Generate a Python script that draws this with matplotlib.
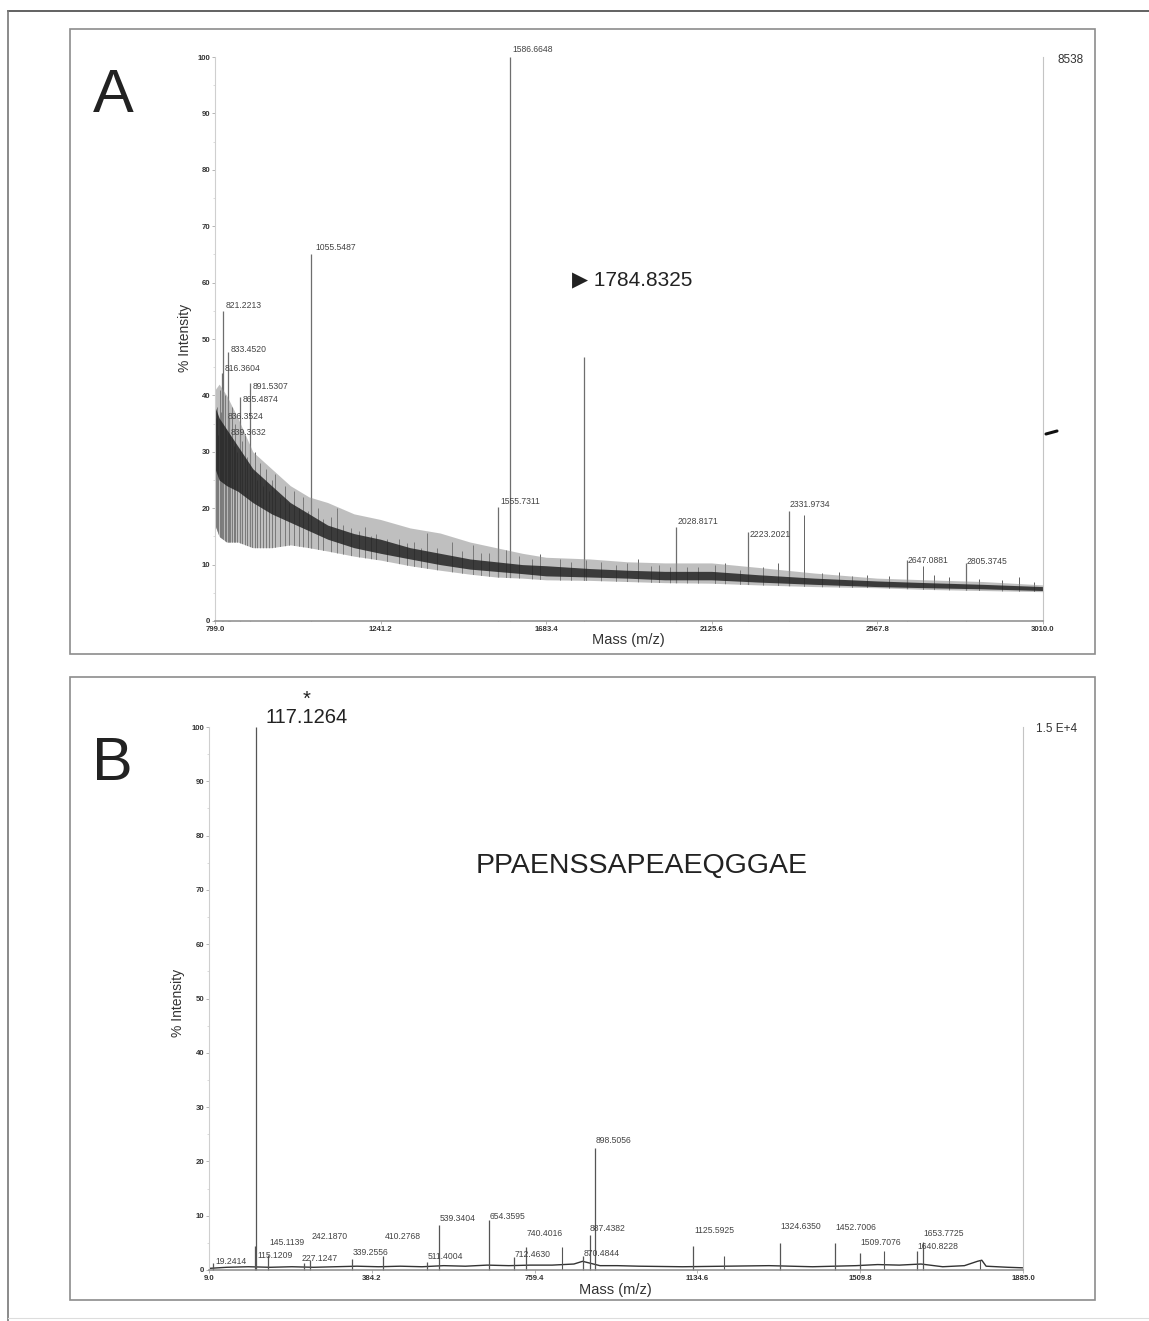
import matplotlib
matplotlib.use("Agg")
import matplotlib.pyplot as plt
from matplotlib.patches import Rectangle
from matplotlib.lines import Line2D
from matplotlib.ticker import MultipleLocator

plt.rcParams['font.family'] = ['Liberation Sans', 'DejaVu Sans']

W, H = 1149, 1321

# ---- spectrum A: MS scan 799-3010 ----
a_xticks = [799.0, 1241.2, 1683.4, 2125.6, 2567.8, 3010.0]

# noise envelope of the raw trace (outer spread and dense core)
a_env_mz = [799, 810, 830, 860, 900, 950, 1000, 1050, 1100, 1170, 1241, 1320, 1400,
            1480, 1550, 1620, 1683, 1800, 1900, 2000, 2125, 2250, 2400, 2567, 2700,
            2850, 3010]
a_env_hi = [41, 42, 40, 36, 30, 27, 24, 22, 21, 19, 18, 16.5, 15.6, 14, 13, 12, 11.3,
            11, 10.5, 10.3, 10.3, 9.5, 8.5, 7.6, 7.3, 7.0, 6.4]
a_env_lo = [17, 15, 14, 14, 13, 13, 13.5, 13, 12.4, 11.5, 10.8, 9.8, 9.0, 8.3, 7.8,
            7.6, 7.3, 7.2, 7.0, 6.8, 6.7, 6.4, 6.1, 5.9, 5.6, 5.4, 5.2]
a_core_hi = [38, 36, 34, 31, 27, 24, 21, 19, 17, 15.5, 14.5, 13, 12, 11, 10.5, 10,
             9.8, 9.3, 9.0, 8.8, 8.8, 8.2, 7.6, 7.1, 6.8, 6.5, 6.1]
a_core_lo = [27, 25, 24, 23, 21, 19, 17.5, 16, 14.5, 13, 12, 11, 10, 9.2, 8.8, 8.4,
             8.0, 7.8, 7.6, 7.3, 7.3, 6.9, 6.5, 6.1, 5.9, 5.7, 5.4]

# labelled peaks
a_peak_mz = [1586.6648, 1784.8325, 1055.5487, 821.2213, 833.4520, 816.3604, 891.5307,
             865.4874, 836.3524, 839.3632, 1555.7311, 2028.8171, 2223.2021, 2331.9734,
             2647.0881, 2805.3745]
a_peak_int = [100, 46.8, 65, 55, 47.7, 44, 42.2, 39.7, 36, 33, 20.2, 16.7, 15.8, 19.5,
              10.8, 10.2]
a_peak_text = ["1586.6648", None, "1055.5487", "821.2213", "833.4520", "816.3604",
               "891.5307", "865.4874", "836.3524", "839.3632", "1555.7311", "2028.8171",
               "2223.2021", "2331.9734", "2647.0881", "2805.3745"]
# where each peak label sits (m/z, %)
a_label_pos = [(1592, 101.4), None, (1066, 66.3), (828, 56.0), (842, 48.2), (826, 44.7),
               (900, 41.5), (874, 39.2), (834, 36.3), (842, 33.5), (1560, 21.1),
               (2035, 17.6), (2227, 15.4), (2334, 20.6), (2649, 10.8), (2805, 10.5)]

# unlabelled spikes standing out of the noise
a_minor_mz = [802, 805, 808, 812, 815, 826, 829, 845, 849, 852, 858, 871, 878, 884,
              897, 905, 912, 918, 926, 935, 944, 952, 960, 972, 985, 997, 1010, 1022,
              1035, 1047, 1075, 1088, 1110, 1125, 1141, 1163, 1184, 1200, 1215, 1230,
              1258, 1290, 1312, 1330, 1348, 1365, 1392, 1432, 1458, 1487, 1510, 1530,
              1575, 1610, 1645, 1668, 1720, 1750, 1790, 1830, 1870, 1900, 1928, 1962,
              1985, 2015, 2060, 2090, 2135, 2161, 2200, 2262, 2302, 2373, 2420, 2465,
              2500, 2540, 2600, 2690, 2720, 2760, 2840, 2900, 2946, 2985]
a_minor_int = [36, 38, 33, 41, 37, 40, 34, 38, 31, 35, 30, 32, 33, 29, 27, 30, 25, 28,
               24, 27, 23, 25, 26, 22, 24, 21, 23, 20, 22, 19.5, 20, 18, 18.5, 20, 17,
               16.5, 16, 16.7, 15, 15.5, 14.5, 14.5, 13.8, 14, 13, 15.6, 13, 14, 12.4,
               13.5, 12, 12, 12.5, 11.5, 11, 11.8, 11, 10.5, 10.8, 10.5, 10, 10.2, 11,
               9.8, 10, 9.6, 9.6, 9.5, 9.9, 10.3, 9.0, 9.6, 10.3, 18.8, 8.5, 8.6, 8.0,
               8.2, 7.9, 9.8, 8.1, 7.8, 7.4, 7.2, 7.8, 7.0]

# ---- spectrum B: MS/MS of 1784.8325 ----
b_xticks = [9.0, 384.2, 759.4, 1134.6, 1509.8, 1885.0]

b_base_mz = [9, 50, 100, 150, 200, 250, 300, 350, 400, 450, 500, 550, 600, 650, 700,
             750, 800, 850, 870, 890, 910, 950, 1000, 1100, 1200, 1300, 1400, 1500,
             1550, 1600, 1650, 1700, 1750, 1780, 1790, 1800, 1850, 1885]
b_base_int = [0.3, 0.5, 0.6, 0.5, 0.6, 0.5, 0.6, 0.7, 0.6, 0.7, 0.6, 0.8, 0.7, 0.9,
              0.8, 0.9, 0.9, 1.1, 1.6, 1.2, 0.8, 0.8, 0.7, 0.6, 0.7, 0.8, 0.6, 0.8,
              1.0, 0.9, 1.1, 0.6, 0.8, 1.6, 1.8, 0.7, 0.5, 0.4]

b_peak_mz = [117.1264, 898.5056, 887.4382, 870.4844, 740.4016, 712.4630, 654.3595,
             539.3404, 511.4004, 410.2768, 339.2556, 242.1870, 227.1247, 145.1139,
             115.1209, 19.2414, 1125.5925, 1324.6350, 1452.7006, 1509.7076, 1640.8228,
             1653.7725]
b_peak_int = [100, 22.5, 6.5, 2.5, 4.3, 2.4, 9.2, 8.3, 1.5, 2.5, 2.0, 1.8, 1.2, 2.8,
              4.5, 1.2, 4.5, 5.0, 5.0, 3.2, 3.5, 5.2]
b_peak_text = [None, "898.5056", "887.4382", "870.4844", "740.4016", "712.4630",
               "654.3595", "539.3404", "511.4004", "410.2768", "339.2556", "242.1870",
               "227.1247", "145.1139", "115.1209", "19.2414", "1125.5925", "1324.6350",
               "1452.7006", "1509.7076", "1640.8228", "1653.7725"]
b_label_pos = [None, (900, 23.9), (886, 7.7), (872, 3.1), (741, 6.8), (713, 2.9),
               (656, 9.8), (541, 9.4), (513, 2.4), (414, 6.1), (340, 3.3), (246, 6.1),
               (223, 2.2), (149, 5.0), (119.5, 2.6), (22.8, 1.5), (1127.5, 7.2),
               (1325.5, 8.1), (1452, 7.9), (1510, 5.0), (1641, 4.4), (1655, 6.8)]

b_minor_mz = [822, 1196, 1565, 1786]
b_minor_int = [4.2, 2.5, 3.5, 1.8]


def fx(px):
    return px / W


def fy(py):
    return 1 - py / H


def style_axes(ax, xticks, xmin, xmax):
    ax.set_xlim(xmin, xmax)
    ax.set_ylim(0, 100)
    ax.spines['top'].set_visible(False)
    ax.spines['left'].set_color('#cfcfcf')
    ax.spines['right'].set_color('#c4c4c4')
    ax.spines['bottom'].set_color('#8a8a8a')
    ax.spines['bottom'].set_linewidth(1.1)
    ax.set_xticks(xticks)
    ax.set_xticklabels(['%.1f' % t for t in xticks])
    ax.yaxis.set_major_locator(MultipleLocator(10))
    ax.yaxis.set_minor_locator(MultipleLocator(5))
    ax.tick_params(axis='both', which='major', length=2, width=0.6, color='#aaaaaa',
                   labelsize=5.6, labelcolor='#333333', pad=1.5)
    ax.tick_params(axis='y', which='minor', length=1.2, width=0.5, color='#cccccc')
    for lab in ax.get_xticklabels() + ax.get_yticklabels():
        lab.set_fontweight('bold')
    ax.set_facecolor('none')


fig = plt.figure(figsize=(W / 100, H / 100), dpi=100)

# outer frame and panel boxes
fig.add_artist(Line2D([fx(8), 1.0], [fy(11), fy(11)], color='#555555', lw=1.3))
fig.add_artist(Line2D([fx(8), fx(8)], [fy(11), 0.0], color='#777777', lw=1.2))
fig.add_artist(Line2D([fx(8), 1.0], [fy(1318), fy(1318)], color='#dddddd', lw=0.8))
for top, bot in [(29, 654), (677, 1300)]:
    fig.add_artist(Rectangle((fx(70), fy(bot)), fx(1095) - fx(70), fy(top) - fy(bot),
                             fill=False, edgecolor='#8c8c8c', lw=1.2))

# ---------- panel A ----------
axA = fig.add_axes([fx(215), fy(621), fx(1043) - fx(215), fy(57) - fy(621)])
style_axes(axA, a_xticks, 799.0, 3010.0)
# spikes and peaks rise from the baseline; a white mask hides them under the noise
axA.vlines(a_minor_mz, 0, a_minor_int, color='#4a4a4a', lw=0.6, zorder=1.1)
axA.vlines(a_peak_mz, 0, a_peak_int, color='#6e6e6e', lw=0.9, clip_on=False,
           zorder=1.2)
axA.fill_between(a_env_mz, 0, a_env_lo, color='white', lw=0, zorder=1.3)
axA.fill_between(a_env_mz, a_env_lo, a_env_hi, color='#8c8c8c', alpha=0.55, lw=0,
                 zorder=1.4)
axA.fill_between(a_env_mz, a_core_lo, a_core_hi, color='#1e1e1e', alpha=0.82, lw=0,
                 zorder=1.5)
for txt, pos in zip(a_peak_text, a_label_pos):
    if txt is None:
        continue
    axA.text(pos[0], pos[1], txt, fontsize=6.2, color='#444444', ha='left',
             va='center', clip_on=False, zorder=3)

fig.text(fx(572), fy(280), '\u25b6 1784.8325', fontsize=15, color='#222222',
         ha='left', va='center')
fig.text(fx(1058), fy(60), '8538', fontsize=8.5, color='#333333', ha='left',
         va='center')
fig.text(fx(113), fy(97), 'A', fontsize=44, color='#222222', ha='center',
         va='center')
fig.text(fx(185), fy(338), '% Intensity', fontsize=10, rotation=90, color='#333333',
         ha='center', va='center')
fig.text(fx(628), fy(640), 'Mass (m/z)', fontsize=10.5, color='#333333',
         ha='center', va='center')
# small pen stroke at the right edge of panel A
fig.add_artist(Line2D([fx(1046), fx(1057)], [fy(434), fy(431)], color='#111111',
                      lw=2.2, solid_capstyle='round'))

# ---------- panel B ----------
axB = fig.add_axes([fx(209), fy(1270), fx(1023) - fx(209), fy(727) - fy(1270)])
style_axes(axB, b_xticks, 9.0, 1885.0)
axB.plot(b_base_mz, b_base_int, color='#333333', lw=1.0)
axB.vlines(b_minor_mz, 0, b_minor_int, color='#555555', lw=0.8)
axB.vlines(b_peak_mz, 0, b_peak_int, color='#555555', lw=0.9, clip_on=False)
for txt, pos in zip(b_peak_text, b_label_pos):
    if txt is None:
        continue
    axB.text(pos[0], pos[1], txt, fontsize=6.2, color='#444444', ha='left',
             va='center', clip_on=False)

# precursor-derived ion marked with an asterisk
fig.text(fx(307), fy(708), '*\n117.1264', fontsize=14.5, color='#222222',
         ha='center', va='center', linespacing=0.95)
fig.text(fx(1057), fy(729), '1.5 E+4', fontsize=8.5, color='#333333', ha='center',
         va='center')
fig.text(fx(642), fy(866), 'PPAENSSAPEAEQGGAE', fontsize=20.5, color='#222222',
         ha='center', va='center')
fig.text(fx(112), fy(764), 'B', fontsize=44, color='#222222', ha='center',
         va='center')
fig.text(fx(178), fy(1003), '% Intensity', fontsize=10, rotation=90, color='#333333',
         ha='center', va='center')
fig.text(fx(615), fy(1290), 'Mass (m/z)', fontsize=10.5, color='#333333',
         ha='center', va='center')

fig.savefig('out.png', dpi=100)
